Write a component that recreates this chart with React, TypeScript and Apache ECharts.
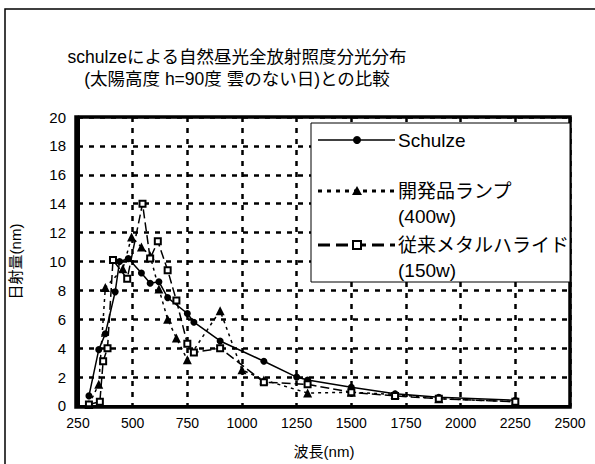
import React, { useEffect, useRef } from "react";
import * as echarts from "echarts";

const titleLines = [
  "schulzeによる自然昼光全放射照度分光分布",
  "(太陽高度 h=90度 雲のない日)との比較",
];
const xAxisName = "波長(nm)";
const yAxisName = "日射量(nm)";
const seriesNames = ["Schulze", "開発品ランプ\n(400w)", "従来メタルハライド\n(150w)"];

const schulze: [number, number][] = [
  [300, 0.7], [345, 3.9], [375, 5.0], [420, 7.9], [440, 10.0], [480, 10.2],
  [540, 9.2], [580, 8.5], [620, 8.6], [660, 7.5], [750, 6.4], [780, 5.8],
  [900, 4.5], [1100, 3.1], [1250, 2.0], [1300, 1.8], [1500, 1.3], [1700, 0.85],
  [1900, 0.6], [2250, 0.4],
];
const devLamp: [number, number][] = [
  [300, 0.1], [345, 1.5], [375, 8.2], [455, 9.5], [495, 11.7], [540, 11.0],
  [580, 10.4], [620, 8.1], [660, 6.0], [700, 4.7], [750, 3.2], [900, 6.6],
  [1000, 2.5], [1100, 1.8], [1300, 0.9], [1500, 0.95], [1700, 0.8], [1900, 0.5],
  [2250, 0.3],
];
const metalHalide: [number, number][] = [
  [300, 0.1], [350, 0.3], [365, 3.1], [385, 4.0], [410, 10.1], [475, 8.8],
  [545, 14.0], [580, 10.2], [615, 11.4], [660, 9.4], [700, 7.3], [750, 4.3],
  [780, 3.7], [900, 4.0], [1100, 1.65], [1300, 1.5], [1500, 0.95], [1700, 0.7],
  [1900, 0.5], [2250, 0.3],
];

const FONT = "Liberation Sans, Arial, Noto Sans CJK JP, sans-serif";

export default function App() {
  const ref = useRef<HTMLDivElement>(null);
  useEffect(() => {
    if (!ref.current) return;
    const chart = echarts.init(ref.current, null, { renderer: "svg" });
    const gl = 76, gt = 117, gr = 25, gb = 57;
    const gw = 595 - gl - gr, gh = 464 - gt - gb;
    const lx0 = 318, lx1 = 395, lmid = 357, tx = 398;
    const legendRows = [
      { y: 140, dash: null as any, width: 1.5, symbol: "circle" },
      { y: 191, dash: [4, 5], width: 3, symbol: "triangle" },
      { y: 245, dash: [12, 6], width: 3, symbol: "rect" },
    ];
    const legendGraphics: any[] = [
      {
        type: "rect", z: 100,
        shape: { x: 311, y: 123, width: 259, height: 159 },
        style: { fill: "#fff", stroke: "#000", lineWidth: 1 },
      },
    ];
    legendRows.forEach((r, i) => {
      legendGraphics.push({
        type: "line", z: 101,
        shape: { x1: lx0, y1: r.y, x2: lx1, y2: r.y },
        style: { stroke: "#000", lineWidth: r.width, lineDash: r.dash },
      });
      if (r.symbol === "circle") {
        legendGraphics.push({ type: "circle", z: 102, shape: { cx: lmid, cy: r.y, r: 4 }, style: { fill: "#000" } });
      } else if (r.symbol === "triangle") {
        legendGraphics.push({
          type: "polygon", z: 102,
          shape: { points: [[lmid, r.y - 5], [lmid - 5, r.y + 4], [lmid + 5, r.y + 4]] },
          style: { fill: "#000" },
        });
      } else {
        legendGraphics.push({
          type: "rect", z: 102,
          shape: { x: lmid - 4, y: r.y - 4, width: 8, height: 8 },
          style: { fill: "#fff", stroke: "#000", lineWidth: 2 },
        });
      }
      const parts = seriesNames[i].split("\n");
      parts.forEach((p, j) => {
        legendGraphics.push({
          type: "text", z: 102,
          style: {
            x: tx, y: r.y + j * 25, text: p, fill: "#000",
            font: `19px ${FONT}`, textVerticalAlign: "middle", verticalAlign: "middle",
          },
        });
      });
    });

    chart.setOption({
      animation: false,
      backgroundColor: "#fff",
      grid: {
        left: gl, right: gr, top: gt, bottom: gb,
        show: false, containLabel: false,
      },
      xAxis: {
        type: "value", min: 250, max: 2500, interval: 250,
        name: xAxisName, nameLocation: "middle", nameGap: 38,
        nameTextStyle: { fontFamily: FONT, fontSize: 15, color: "#000" },
        axisLine: { show: true, lineStyle: { color: "#000", width: 3 } },
        axisTick: { show: false },
        axisLabel: {
          fontFamily: FONT, fontSize: 14, color: "#000", margin: 10,
          formatter: (v: number) => String(v),
        },
        splitLine: { show: true, lineStyle: { color: "#000", width: 2.5, type: [5, 6] } },
      },
      yAxis: {
        type: "value", min: 0, max: 20, interval: 2,
        name: yAxisName, nameLocation: "middle", nameGap: 55,
        nameTextStyle: { fontFamily: FONT, fontSize: 15, color: "#000" },
        axisLine: { show: true, lineStyle: { color: "#000", width: 3 } },
        axisTick: { show: false },
        axisLabel: { fontFamily: FONT, fontSize: 15, color: "#000", margin: 12 },
        splitLine: { show: true, lineStyle: { color: "#000", width: 2.5, type: [5, 6] } },
      },
      series: [
        {
          name: seriesNames[0], type: "line", data: schulze,
          symbol: "circle", symbolSize: 7, showAllSymbol: true,
          lineStyle: { color: "#000", width: 1.5 },
          itemStyle: { color: "#000" },
        },
        {
          name: seriesNames[1], type: "line", data: devLamp,
          symbol: "triangle", symbolSize: 9, showAllSymbol: true,
          lineStyle: { color: "#000", width: 1.5, type: [3, 4] },
          itemStyle: { color: "#000" },
        },
        {
          name: seriesNames[2], type: "line", data: metalHalide,
          symbol: "rect", symbolSize: 6, showAllSymbol: true,
          lineStyle: { color: "#000", width: 1.5, type: [9, 4] },
          itemStyle: { color: "#fff", borderColor: "#000", borderWidth: 2 },
        },
      ],
      graphic: [
        {
          type: "rect", z: -1, silent: true,
          shape: { x: 5, y: 9, width: 600, height: 460 },
          style: { fill: "none", stroke: "#000", lineWidth: 1.5 },
        },
        {
          type: "rect", z: 50, silent: true,
          shape: { x: gl, y: gt, width: gw, height: gh },
          style: { fill: "none", stroke: "#000", lineWidth: 3.5 },
        },
        {
          type: "text",
          style: {
            x: 237, y: 57, text: titleLines[0], fill: "#000",
            font: `17.5px ${FONT}`, textAlign: "center", align: "center",
            verticalAlign: "middle", textVerticalAlign: "middle",
          },
        },
        {
          type: "text",
          style: {
            x: 237, y: 79, text: titleLines[1], fill: "#000",
            font: `17.5px ${FONT}`, textAlign: "center", align: "center",
            verticalAlign: "middle", textVerticalAlign: "middle",
          },
        },
        ...legendGraphics,
      ],
    });
    return () => chart.dispose();
  }, []);
  return (
    <div
      ref={ref}
      style={{ position: "absolute", left: 0, top: 0, width: 595, height: 464 }}
    />
  );
}
